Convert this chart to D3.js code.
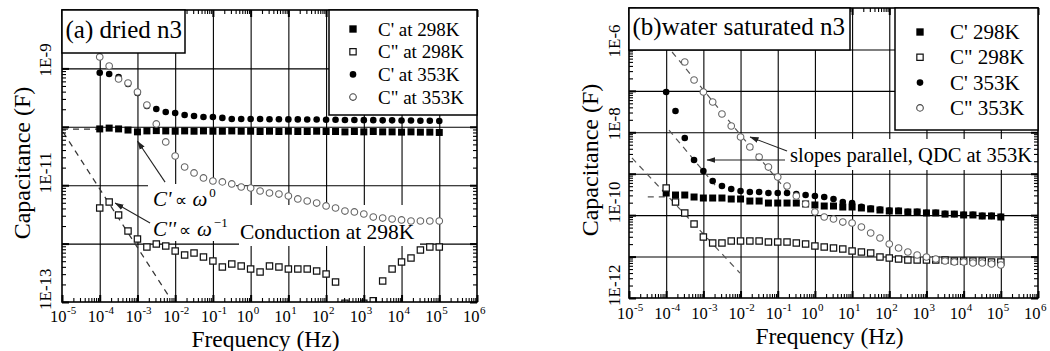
<!DOCTYPE html>
<html>
<head>
<meta charset="utf-8">
<script src="https://cdn.jsdelivr.net/npm/d3@7"></script>
<style>
  html, body { margin: 0; padding: 0; background: #fff; }
  svg { display: block; }
</style>
</head>
<body>
<svg id="chart" width="1050" height="351"></svg>
<script>
// Measurement frequencies (Hz), four points per decade
const freqHz = [
  1.00e-4, 1.78e-4, 3.16e-4, 5.62e-4, 1.00e-3, 1.78e-3, 3.16e-3, 5.62e-3,
  1.00e-2, 1.78e-2, 3.16e-2, 5.62e-2, 1.00e-1, 1.78e-1, 3.16e-1, 5.62e-1,
  1.00e0,  1.78e0,  3.16e0,  5.62e0,  1.00e1,  1.78e1,  3.16e1,  5.62e1,
  1.00e2,  1.78e2,  3.16e2,  5.62e2,  1.00e3,  1.78e3,  3.16e3,  5.62e3,
  1.00e4,  1.78e4,  3.16e4,  5.62e4,  1.00e5
];

// (a) dried n3 — capacitance in farads
const driedReal298 = [
  9.2e-11, 9.5e-11, 9.2e-11, 8.8e-11, 8.2e-11, 8.5e-11, 8.6e-11, 8.5e-11,
  8.4e-11, 8.5e-11, 8.4e-11, 8.5e-11, 8.4e-11, 8.4e-11, 8.5e-11, 8.4e-11,
  8.4e-11, 8.3e-11, 8.4e-11, 8.3e-11, 8.4e-11, 8.3e-11, 8.3e-11, 8.4e-11,
  8.3e-11, 8.3e-11, 8.2e-11, 8.3e-11, 8.2e-11, 8.3e-11, 8.2e-11, 8.2e-11,
  8.1e-11, 8.2e-11, 8.1e-11, 8.1e-11, 8.0e-11
];
const driedImag298 = [
  4.07e-12, 5.15e-12, 3.09e-12, 1.64e-12, 1.20e-12, 8.75e-13, 9.84e-13, 9.10e-13,
  7.46e-13, 6.38e-13, 6.90e-13, 5.90e-13, 5.04e-13, 3.97e-13, 4.48e-13, 4.13e-13,
  3.67e-13, 3.27e-13, 4.13e-13, 3.97e-13, 3.67e-13, 3.67e-13, 3.67e-13, 3.40e-13,
  3.01e-13, 2.20e-13, 9.5e-14, null, 9.5e-14, 1.05e-13, 2.29e-13, 3.67e-13,
  4.84e-13, 5.66e-13, 7.76e-13, 8.75e-13, 8.75e-13
];
const driedReal353 = [
  8.43e-10, 8.02e-10, 7.13e-10, 5.41e-10, 3.79e-10, 2.27e-10, 2.02e-10, 1.79e-10,
  1.72e-10, 1.59e-10, 1.53e-10, 1.47e-10, 1.47e-10, 1.42e-10, 1.36e-10, 1.36e-10,
  1.36e-10, 1.36e-10, 1.35e-10, 1.35e-10, 1.34e-10, 1.34e-10, 1.33e-10, 1.33e-10,
  1.32e-10, 1.32e-10, 1.31e-10, 1.31e-10, 1.30e-10, 1.30e-10, 1.29e-10, 1.29e-10,
  1.28e-10, 1.28e-10, 1.27e-10, 1.27e-10, 1.26e-10
];
const driedImag353 = [
  1.57e-9, 1.10e-9, 6.58e-10, 5.62e-10, 3.94e-10, 2.36e-10, 1.12e-10, 5.50e-11,
  3.16e-11, 2.05e-11, 1.62e-11, 1.33e-11, 1.18e-11, 1.14e-11, 1.05e-11, 9.31e-12,
  8.95e-12, 7.96e-12, 7.35e-12, 7.06e-12, 6.53e-12, 5.81e-12, 5.36e-12, 4.95e-12,
  4.41e-12, 4.07e-12, 3.61e-12, 3.48e-12, 3.21e-12, 2.85e-12, 2.74e-12, 2.64e-12,
  2.54e-12, 2.44e-12, 2.44e-12, 2.44e-12, 2.44e-12
];

// (b) water saturated n3 — capacitance in farads
const wetReal298 = [
  3.42e-10, 3.06e-10, 3.06e-10, 2.74e-10, 2.59e-10, 2.59e-10, 2.59e-10, 2.45e-10,
  2.45e-10, 2.19e-10, 2.19e-10, 1.96e-10, 1.96e-10, 1.96e-10, 1.96e-10, 1.86e-10,
  1.76e-10, 1.66e-10, 1.66e-10, 1.57e-10, 1.57e-10, 1.49e-10, 1.41e-10, 1.33e-10,
  1.26e-10, 1.26e-10, 1.19e-10, 1.19e-10, 1.13e-10, 1.13e-10, 1.06e-10, 1.06e-10,
  1.01e-10, 1.01e-10, 9.53e-11, 9.53e-11, 9.02e-11
];
const wetImag298 = [
  4.52e-10, 2.07e-10, 1.13e-10, 6.11e-11, 2.96e-11, 2.13e-11, 2.13e-11, 2.38e-11,
  2.38e-11, 2.38e-11, 2.38e-11, 2.25e-11, 2.25e-11, 2.25e-11, 2.13e-11, 2.01e-11,
  1.80e-11, 1.70e-11, 1.61e-11, 1.52e-11, 1.36e-11, 1.29e-11, 1.22e-11, 9.77e-12,
  9.23e-12, 8.73e-12, 8.26e-12, 8.26e-12, 8.26e-12, 8.26e-12, 8.26e-12, 7.82e-12,
  7.82e-12, 7.82e-12, 7.82e-12, 7.40e-12, 7.40e-12
];
const wetReal353 = [
  9.38e-8, 3.27e-8, 7.28e-9, 2.14e-9, 1.16e-9, 6.67e-10, 5.05e-10, 4.28e-10,
  3.83e-10, 3.62e-10, 3.62e-10, 3.42e-10, 3.42e-10, 3.42e-10, 3.24e-10, 3.06e-10,
  2.90e-10, 2.74e-10, 2.45e-10, 2.07e-10, 1.96e-10, 1.58e-10, 1.45e-10, 1.36e-10,
  1.29e-10, 1.28e-10, 1.21e-10, 1.20e-10, 1.14e-10, 1.14e-10, 1.08e-10, 1.07e-10,
  1.02e-10, 1.02e-10, 9.6e-11, 9.6e-11, 9.1e-11
];
const wetImag353 = [
  null, null, 4.97e-7, 1.83e-7, 9.38e-8, 5.38e-8, 2.76e-8, 1.42e-8,
  7.69e-9, 4.42e-9, 2.53e-9, 1.45e-9, 8.34e-10, 5.05e-10, 2.90e-10, 1.86e-10,
  1.19e-10, 9.02e-11, 8.07e-11, 6.82e-11, 6.46e-11, 5.18e-11, 3.71e-11, 2.81e-11,
  2.01e-11, 1.61e-11, 1.29e-11, 1.09e-11, 9.77e-12, 8.73e-12, 7.82e-12, 7.40e-12,
  7.40e-12, 7.00e-12, 7.00e-12, 6.62e-12, 6.26e-12
];

// Axis tick labels
const xTickExponents = [-5, -4, -3, -2, -1, 0, 1, 2, 3, 4, 5, 6];
const driedYTickLabels = [["1E-9", 1e-9], ["1E-11", 1e-11], ["1E-13", 1e-13]];
const wetYTickLabels = [["1E-6", 1e-6], ["1E-8", 1e-8], ["1E-10", 1e-10], ["1E-12", 1e-12]];

const driedLegend = ["C' at 298K", "C\" at 298K", "C' at 353K", "C\" at 353K"];
const wetLegend = ["C' 298K", "C\" 298K", "C' 353K", "C\" 353K"];

// ---------------------------------------------------------------------------
const SERIF = "'Liberation Serif', 'Times New Roman', serif";
const svg = d3.select("#chart").attr("font-family", SERIF);
const defs = svg.append("defs");
defs.append("marker")
  .attr("id", "arrowhead")
  .attr("markerUnits", "userSpaceOnUse")
  .attr("markerWidth", 9).attr("markerHeight", 7)
  .attr("refX", 8.5).attr("refY", 3.5)
  .attr("orient", "auto")
  .append("path").attr("d", "M0,0.6 L9,3.5 L0,6.4 Z").attr("fill", "#222");

const symbolKinds = ["fsquare", "osquare", "fcircle", "ocircle"];

function symbolPath(kind, scale) {
  const s = scale || 1;
  if (kind === "fsquare") return d3.symbol(d3.symbolSquare, 49 * s * s)();
  if (kind === "osquare") return d3.symbol(d3.symbolSquare, 40 * s * s)();
  return d3.symbol(d3.symbolCircle, Math.PI * 3.3 * 3.3 * s * s)();
}
function styleSymbol(sel, kind) {
  if (kind === "fsquare" || kind === "fcircle") {
    sel.attr("fill", "#000").attr("stroke", "none");
  } else if (kind === "osquare") {
    sel.attr("fill", "#fff").attr("stroke", "#111").attr("stroke-width", 1.2);
  } else {
    sel.attr("fill", "#fff").attr("stroke", "#666").attr("stroke-width", 1.1);
  }
}

function decades(lo, hi) { return d3.range(lo, hi + 1).map(e => Math.pow(10, e)); }
function minors(lo, hi) {
  const out = [];
  for (let e = lo; e < hi; e++) for (let m = 2; m <= 9; m++) out.push(m * Math.pow(10, e));
  return out;
}

function drawPanel(p) {
  const W = p.right - p.left, H = p.bottom - p.top;
  const x = d3.scaleLog().domain([1e-5, 1e6]).range([p.left, p.right]);
  const y = d3.scaleLog().domain(p.yDomain).range([p.bottom, p.top]);
  const yLo = Math.round(Math.log10(p.yDomain[0])), yHi = Math.round(Math.log10(p.yDomain[1]));
  const g = svg.append("g");

  defs.append("clipPath").attr("id", p.id + "-clip")
    .append("rect").attr("x", p.left).attr("y", p.top).attr("width", W).attr("height", H);

  // grid at every decade
  const gridStyle = s => {
    s.select(".domain").remove();
    s.selectAll("line").attr("stroke", "#000").attr("stroke-width", 1.1);
  };
  g.append("g").attr("transform", `translate(0,${p.bottom})`)
    .call(d3.axisBottom(x).tickValues(decades(-4, 5)).tickSize(-H).tickFormat(""))
    .call(gridStyle);
  g.append("g").attr("transform", `translate(${p.left},0)`)
    .call(d3.axisLeft(y).tickValues(decades(yLo + 1, yHi - 1)).tickSize(-W).tickFormat(""))
    .call(gridStyle);

  // white backgrounds behind the annotation labels
  p.labelBoxes.forEach(b => {
    g.append("rect").attr("x", b[0]).attr("y", b[1]).attr("width", b[2] - b[0]).attr("height", b[3] - b[1])
      .attr("fill", "#fff");
  });

  const plot = g.append("g").attr("clip-path", `url(#${p.id}-clip)`);

  // dashed guide lines
  const line = d3.line().x(d => x(d[0])).y(d => y(d[1]));
  p.guides.forEach(gd => {
    plot.append("path").attr("d", line(gd.pts)).attr("fill", "none")
      .attr("stroke", gd.color).attr("stroke-width", 1.2).attr("stroke-dasharray", "6,5");
  });

  // data markers
  p.series.forEach((vals, i) => {
    const kind = symbolKinds[i];
    const pts = freqHz.map((f, j) => [f, vals[j]]).filter(d => d[1] != null);
    plot.append("g").selectAll("path").data(pts).join("path")
      .attr("transform", d => `translate(${x(d[0])},${y(d[1])})`)
      .attr("d", symbolPath(kind))
      .call(styleSymbol, kind);
  });

  // annotation arrows
  p.arrows.forEach(a => {
    g.append("line")
      .attr("x1", x(a[0][0])).attr("y1", y(a[0][1]))
      .attr("x2", x(a[1][0])).attr("y2", y(a[1][1]))
      .attr("stroke", "#222").attr("stroke-width", 1.1).attr("marker-end", "url(#arrowhead)");
  });

  // inside ticks on all four sides
  const tickStyle = (w) => s => {
    s.select(".domain").remove();
    s.selectAll("line").attr("stroke", "#000").attr("stroke-width", w);
  };
  const xm = minors(-5, 6), xM = decades(-5, 6);
  const ym = minors(yLo, yHi), yM = decades(yLo, yHi);
  g.append("g").attr("transform", `translate(0,${p.bottom})`)
    .call(d3.axisBottom(x).tickValues(xm).tickSize(-4).tickFormat("")).call(tickStyle(1.1));
  g.append("g").attr("transform", `translate(0,${p.bottom})`)
    .call(d3.axisBottom(x).tickValues(xM).tickSize(-7).tickFormat("")).call(tickStyle(2));
  g.append("g").attr("transform", `translate(0,${p.top})`)
    .call(d3.axisTop(x).tickValues(xm).tickSize(-4).tickFormat("")).call(tickStyle(1.1));
  g.append("g").attr("transform", `translate(0,${p.top})`)
    .call(d3.axisTop(x).tickValues(xM).tickSize(-7).tickFormat("")).call(tickStyle(2));
  g.append("g").attr("transform", `translate(${p.left},0)`)
    .call(d3.axisLeft(y).tickValues(ym).tickSize(-4).tickFormat("")).call(tickStyle(1.1));
  g.append("g").attr("transform", `translate(${p.left},0)`)
    .call(d3.axisLeft(y).tickValues(yM).tickSize(-7).tickFormat("")).call(tickStyle(2));
  g.append("g").attr("transform", `translate(${p.right},0)`)
    .call(d3.axisRight(y).tickValues(ym).tickSize(-4).tickFormat("")).call(tickStyle(1.1));
  g.append("g").attr("transform", `translate(${p.right},0)`)
    .call(d3.axisRight(y).tickValues(yM).tickSize(-7).tickFormat("")).call(tickStyle(2));

  // frame
  g.append("rect").attr("x", p.left).attr("y", p.top).attr("width", W).attr("height", H)
    .attr("fill", "none").attr("stroke", "#000").attr("stroke-width", 1.6);

  // title box
  g.append("rect").attr("x", p.left).attr("y", p.top).attr("width", p.titleBox[0] - p.left)
    .attr("height", p.titleBox[1] - p.top).attr("fill", "#fff").attr("stroke", "#000").attr("stroke-width", 1.5);
  g.append("text").attr("x", p.left + 3.5).attr("y", p.titleBaseline).attr("font-size", 25)
    .text(p.title);

  // legend
  const L = p.legend;
  g.append("rect").attr("x", L.x0).attr("y", p.top).attr("width", p.right - L.x0)
    .attr("height", L.y1 - p.top).attr("fill", "#fff").attr("stroke", "#000").attr("stroke-width", 1.5);
  p.legendLabels.forEach((lab, i) => {
    const ry = L.row0 + i * L.step;
    const kind = symbolKinds[i];
    const sym = g.append("path").attr("transform", `translate(${L.sx},${ry})`)
      .attr("d", symbolPath(kind, kind === "fsquare" ? 1.05 : 1)).call(styleSymbol, kind);
    if (kind === "ocircle") sym.attr("stroke", "#444");
    g.append("text").attr("x", L.tx).attr("y", ry + L.dy).attr("font-size", L.fs).text(lab);
  });

  // x tick labels: "10" with a raised exponent
  xTickExponents.forEach(e => {
    const xv = x(Math.pow(10, e));
    const expStr = String(e);
    const shift = expStr.length > 1 ? 4.5 : 2.5;
    g.append("text").attr("x", xv + shift).attr("y", p.tickBaseline)
      .attr("text-anchor", "end").attr("font-size", 16.5).text("10");
    g.append("text").attr("x", xv + shift + 0.5).attr("y", p.tickBaseline - 8)
      .attr("text-anchor", "start").attr("font-size", 11).text(expStr);
  });

  // y tick labels (rotated)
  p.yLabels.forEach(([lab, v]) => {
    g.append("text")
      .attr("transform", `translate(${p.left - p.yLabelGap},${y(v) + 8}) rotate(-90)`)
      .attr("font-size", 17).attr("text-anchor", "start").text(lab);
  });

  // axis titles
  g.append("text").attr("x", (p.left + p.right) / 2 - 4).attr("y", p.xTitleBaseline)
    .attr("text-anchor", "middle").attr("font-size", 23.5).text("Frequency (Hz)");
  g.append("text")
    .attr("transform", `translate(${p.left - p.yTitleGap},${(p.top + p.bottom) / 2 + 7}) rotate(-90)`)
    .attr("text-anchor", "middle").attr("font-size", 24).text("Capacitance (F)");

  p.notes(g, x, y);
}

// "C ∝ ω^n" proportionality label
function propText(g, xPos, yPos, sym, exp) {
  const t = g.append("text").attr("x", xPos).attr("y", yPos).attr("font-size", 21);
  t.append("tspan").attr("font-style", "italic").text(sym);
  t.append("tspan").attr("font-size", 17).attr("dx", 3).text("\u221D");
  t.append("tspan").attr("font-style", "italic").attr("dx", 6).text("\u03C9");
  t.append("tspan").attr("dx", 2).attr("dy", -9).attr("font-size", 13).text(exp);
}

// (a) dried n3
drawPanel({
  id: "dried",
  left: 62, right: 477, top: 10, bottom: 302,
  tickBaseline: 322, xTitleBaseline: 346.5,
  yDomain: [1e-13, 1e-8],
  series: [driedReal298, driedImag298, driedReal353, driedImag353],
  title: "(a) dried n3", titleBox: [185, 53], titleBaseline: 38,
  legendLabels: driedLegend,
  legend: { x0: 329, y1: 115, sx: 353, tx: 378, row0: 29, step: 22.7, dy: 6.5, fs: 19 },
  yLabels: driedYTickLabels, yLabelGap: 11, yTitleGap: 32,
  labelBoxes: [[148, 184, 236, 212], [148, 212, 236, 241], [239, 205, 420, 246]],
  guides: [
    { pts: [[1e-5, 9.16e-11], [1e-4, 9.16e-11]], color: "#333" },
    { pts: [[1.07e-5, 8.1e-11], [7.3e-3, 1.17e-13]], color: "#333" }
  ],
  arrows: [
    [[5.4e-3, 1.13e-11], [1.0e-3, 5.7e-11]],
    [[2.16e-3, 2.25e-12], [2.55e-4, 4.95e-12]]
  ],
  notes: (g) => {
    propText(g, 153, 206, "C'", "0");
    propText(g, 153, 236, "C''", "\u22121");
    g.append("text").attr("x", 240).attr("y", 239).attr("font-size", 21.5).text("Conduction at 298K");
  }
});

// (b) water saturated n3
drawPanel({
  id: "wet",
  left: 629, right: 1038, top: 8, bottom: 298,
  tickBaseline: 319, xTitleBaseline: 344,
  yDomain: [1e-12, 1e-5],
  series: [wetReal298, wetImag298, wetReal353, wetImag353],
  title: "(b)water saturated n3", titleBox: [850, 50], titleBaseline: 35,
  legendLabels: wetLegend,
  legend: { x0: 895, y1: 130, sx: 920, tx: 950, row0: 32, step: 25.3, dy: 7, fs: 21 },
  yLabels: wetYTickLabels, yLabelGap: 9, yTitleGap: 31,
  labelBoxes: [[786, 139, 1036, 170]],
  guides: [
    { pts: [[1.44e-4, 8.67e-7], [0.167, 4.05e-10]], color: "#555" },
    { pts: [[1.19e-4, 1.13e-8], [2.06e-3, 5.33e-10]], color: "#555" },
    { pts: [[1.2e-5, 2.4e-9], [9.66e-3, 4.0e-12]], color: "#555" },
    { pts: [[3.2e-5, 2.75e-10], [1.0e-4, 2.75e-10]], color: "#555" }
  ],
  arrows: [
    [[0.178, 3.53e-9], [1.8e-2, 7.7e-9]],
    [[0.157, 2.14e-9], [1.25e-3, 2.14e-9]]
  ],
  notes: (g) => {
    g.append("text").attr("x", 790).attr("y", 162).attr("font-size", 20.5).text("slopes parallel, QDC at 353K");
  }
});
</script>
</body>
</html>
